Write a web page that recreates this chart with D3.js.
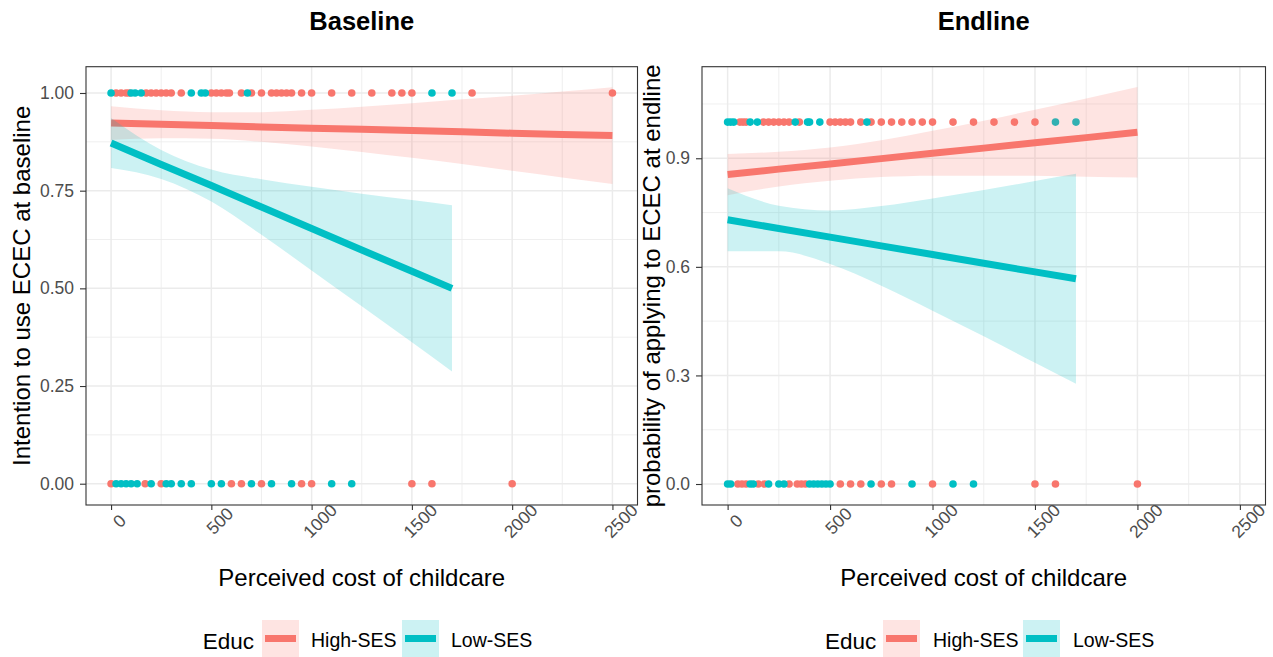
<!DOCTYPE html>
<html>
<head>
<meta charset="utf-8">
<script src="https://cdn.jsdelivr.net/npm/d3@7"></script>
<style>
  html, body { margin: 0; padding: 0; background: #ffffff; }
  svg { display: block; font-family: "Liberation Sans", Arial, sans-serif; }
</style>
</head>
<body>
<svg id="chart" width="1273" height="657"></svg>
<script>
// ---------------- DATA ----------------
const groups = ["High-SES", "Low-SES"];
const colors = ["#F8766D", "#00BFC4"];
const xTicks = [0, 500, 1000, 1500, 2000, 2500];
const xMinor = [250, 750, 1250, 1750, 2250];
const yTicksBase = [0, 0.25, 0.5, 0.75, 1.0];
const yTickLabelsBase = ["0.00", "0.25", "0.50", "0.75", "1.00"];
const yMinorBase = [0.125, 0.375, 0.625, 0.875];
const yTicksEnd = [0, 0.3, 0.6, 0.9];
const yTickLabelsEnd = ["0.0", "0.3", "0.6", "0.9"];
const yMinorEnd = [0.15, 0.45, 0.75, 1.05];

// Baseline observed points (cost) at outcome = 1 and 0
const baseHighOne = [25, 50, 75, 90, 175, 200, 225, 250, 275, 300, 350, 500, 525, 550, 575, 590, 650, 700, 750, 800, 825, 850, 875, 900, 950, 1000, 1100, 1200, 1300, 1400, 1450, 1500, 1800, 2500];
const baseLowOne = [0, 100, 120, 150, 400, 450, 470, 680, 1600, 1700];
const baseHighZero = [0, 170, 250, 600, 650, 750, 950, 1000, 1500, 1600, 2000];
const baseLowZero = [25, 50, 75, 100, 130, 200, 275, 300, 350, 400, 500, 550, 700, 800, 900, 1100, 1200];

// Endline observed points
const endHighOne = [60, 75, 90, 175, 200, 225, 250, 275, 300, 350, 500, 525, 550, 575, 600, 650, 700, 750, 800, 850, 900, 950, 1000, 1100, 1200, 1300, 1400, 1500];
const endLowOne = [0, 15, 30, 110, 145, 330, 390, 400, 450, 680, 1600, 1700];
const endHighZero = [50, 70, 90, 150, 180, 300, 340, 360, 380, 550, 600, 650, 750, 800, 1000, 1500, 1600, 2000];
const endLowZero = [0, 15, 110, 125, 200, 250, 275, 400, 420, 440, 460, 480, 500, 700, 900, 1100, 1200];

// Fitted lines and confidence bands
const baseHighX   = [0, 250, 500, 750, 1000, 1250, 1500, 1750, 2000, 2250, 2500];
const baseHighFit = [0.923, 0.920, 0.917, 0.913, 0.910, 0.907, 0.904, 0.901, 0.897, 0.894, 0.891];
const baseHighLo  = [0.880, 0.884, 0.883, 0.875, 0.863, 0.849, 0.834, 0.818, 0.801, 0.784, 0.767];
const baseHighHi  = [0.966, 0.956, 0.951, 0.951, 0.957, 0.965, 0.974, 0.984, 0.993, 1.004, 1.015];

const baseLowX   = [0, 250, 500, 750, 1000, 1250, 1500, 1700];
const baseLowFit = [0.872, 0.817, 0.763, 0.708, 0.653, 0.598, 0.544, 0.500];
const baseLowLo  = [0.808, 0.780, 0.722, 0.637, 0.546, 0.454, 0.362, 0.287];
const baseLowHi  = [0.936, 0.854, 0.804, 0.779, 0.760, 0.742, 0.726, 0.713];

const endHighX   = [0, 250, 500, 750, 1000, 1250, 1500, 1750, 2000];
const endHighFit = [0.855, 0.870, 0.884, 0.899, 0.914, 0.928, 0.943, 0.957, 0.972];
const endHighLo  = [0.798, 0.822, 0.838, 0.848, 0.852, 0.852, 0.852, 0.849, 0.847];
const endHighHi  = [0.912, 0.918, 0.930, 0.950, 0.976, 1.004, 1.034, 1.065, 1.097];

const endLowX   = [0, 250, 500, 750, 1000, 1250, 1500, 1700];
const endLowFit = [0.730, 0.706, 0.682, 0.658, 0.634, 0.610, 0.586, 0.567];
const endLowLo  = [0.643, 0.643, 0.608, 0.548, 0.479, 0.408, 0.335, 0.277];
const endLowHi  = [0.817, 0.769, 0.756, 0.768, 0.789, 0.812, 0.837, 0.857];

// ---------------- BUILD ----------------
const zip = (xs, f, lo, hi) => xs.map((x, i) => ({x, f: f[i], lo: lo[i], hi: hi[i]}));

const panels = [
  {
    title: "Baseline",
    ytitle: "Intention to use ECEC at baseline",
    left: 86, right: 637.5, top: 66.7, bottom: 505,
    ydom: [-0.0545, 1.0673],
    yTicks: yTicksBase, yLabels: yTickLabelsBase, yMinor: yMinorBase,
    ytitleX: 30,
    points: [
      {vals: baseHighOne, y: 1, g: 0}, {vals: baseHighZero, y: 0, g: 0},
      {vals: baseLowOne, y: 1, g: 1}, {vals: baseLowZero, y: 0, g: 1}
    ],
    fits: [zip(baseHighX, baseHighFit, baseHighLo, baseHighHi), zip(baseLowX, baseLowFit, baseLowLo, baseLowHi)],
    legend: {educ: 202.7, key1: 262, txt1: 311, key2: 402, txt2: 451}
  },
  {
    title: "Endline",
    ytitle: "probability of applying to ECEC at endline",
    left: 702, right: 1265.5, top: 66.7, bottom: 505,
    ydom: [-0.058, 1.153],
    yTicks: yTicksEnd, yLabels: yTickLabelsEnd, yMinor: yMinorEnd,
    ytitleX: 660,
    points: [
      {vals: endHighOne, y: 1, g: 0}, {vals: endHighZero, y: 0, g: 0},
      {vals: endLowOne, y: 1, g: 1}, {vals: endLowZero, y: 0, g: 1}
    ],
    fits: [zip(endHighX, endHighFit, endHighLo, endHighHi), zip(endLowX, endLowFit, endLowLo, endLowHi)],
    legend: {educ: 825, key1: 883, txt1: 933, key2: 1023, txt2: 1073}
  }
];

const svg = d3.select("#chart");
svg.append("rect").attr("width", 1273).attr("height", 657).attr("fill", "#ffffff");

panels.forEach(p => {
  const x = d3.scaleLinear().domain([-125, 2625]).range([p.left, p.right]);
  const y = d3.scaleLinear().domain(p.ydom).range([p.bottom, p.top]);
  const g = svg.append("g");

  // panel background
  g.append("rect").attr("x", p.left).attr("y", p.top)
    .attr("width", p.right - p.left).attr("height", p.bottom - p.top).attr("fill", "#ffffff");

  // minor gridlines
  g.selectAll(".xminor").data(xMinor).enter().append("line")
    .attr("x1", d => x(d)).attr("x2", d => x(d)).attr("y1", p.top).attr("y2", p.bottom)
    .attr("stroke", "#ebebeb").attr("stroke-width", 0.8);
  g.selectAll(".yminor").data(p.yMinor).enter().append("line")
    .attr("y1", d => y(d)).attr("y2", d => y(d)).attr("x1", p.left).attr("x2", p.right)
    .attr("stroke", "#ebebeb").attr("stroke-width", 0.8);
  // major gridlines
  g.selectAll(".xmajor").data(xTicks).enter().append("line")
    .attr("x1", d => x(d)).attr("x2", d => x(d)).attr("y1", p.top).attr("y2", p.bottom)
    .attr("stroke", "#ebebeb").attr("stroke-width", 1.5);
  g.selectAll(".ymajor").data(p.yTicks).enter().append("line")
    .attr("y1", d => y(d)).attr("y2", d => y(d)).attr("x1", p.left).attr("x2", p.right)
    .attr("stroke", "#ebebeb").attr("stroke-width", 1.5);

  // points
  p.points.forEach(s => {
    g.selectAll(null).data(s.vals).enter().append("circle")
      .attr("cx", d => x(d)).attr("cy", y(s.y)).attr("r", 3.8)
      .attr("fill", colors[s.g]);
  });

  // smooth: ribbon then line per group
  p.fits.forEach((data, gi) => {
    const area = d3.area().x(d => x(d.x)).y0(d => y(d.lo)).y1(d => y(d.hi)).curve(d3.curveMonotoneX);
    g.append("path").datum(data).attr("d", area)
      .attr("fill", colors[gi]).attr("fill-opacity", 0.2);
    const line = d3.line().x(d => x(d.x)).y(d => y(d.f));
    g.append("path").datum(data).attr("d", line)
      .attr("fill", "none").attr("stroke", colors[gi]).attr("stroke-width", 7);
  });

  // border
  g.append("rect").attr("x", p.left).attr("y", p.top)
    .attr("width", p.right - p.left).attr("height", p.bottom - p.top)
    .attr("fill", "none").attr("stroke", "#333333").attr("stroke-width", 1.1);

  // x axis
  const xa = g.append("g").attr("transform", `translate(0,${p.bottom})`)
    .call(d3.axisBottom(x).tickValues(xTicks).tickSize(5).tickFormat(d3.format("d")));
  xa.select(".domain").remove();
  xa.selectAll(".tick line").attr("stroke", "#333333").attr("stroke-width", 1.1);
  xa.selectAll(".tick text")
    .attr("y", 0).attr("dy", null)
    .attr("transform", function() { return "translate(8,16) rotate(-45)"; })
    .attr("text-anchor", "middle").attr("dominant-baseline", "central")
    .attr("fill", "#4d4d4d").style("font-size", "17.5px")
    .style("font-family", '"Liberation Sans", Arial, sans-serif');

  // y axis
  const ya = g.append("g").attr("transform", `translate(${p.left},0)`)
    .call(d3.axisLeft(y).tickValues(p.yTicks).tickSize(6).tickPadding(6)
      .tickFormat((d, i) => p.yLabels[i]));
  ya.select(".domain").remove();
  ya.selectAll(".tick line").attr("stroke", "#333333").attr("stroke-width", 1.1);
  ya.selectAll(".tick text").attr("fill", "#4d4d4d").style("font-size", "17.5px")
    .style("font-family", '"Liberation Sans", Arial, sans-serif');

  const cx = (p.left + p.right) / 2;
  const cy = (p.top + p.bottom) / 2;

  // title
  g.append("text").attr("x", cx).attr("y", 30).attr("text-anchor", "middle")
    .style("font-size", "25.5px").style("font-weight", "bold").attr("fill", "#000")
    .text(p.title);

  // axis titles
  g.append("text").attr("x", cx).attr("y", 586).attr("text-anchor", "middle")
    .style("font-size", "24px").attr("fill", "#000").text("Perceived cost of childcare");
  g.append("text").attr("transform", `translate(${p.ytitleX},${cy}) rotate(-90)`)
    .attr("text-anchor", "middle").style("font-size", "24px").attr("fill", "#000").text(p.ytitle);

  // legend
  const L = p.legend;
  g.append("text").attr("x", L.educ).attr("y", 649).style("font-size", "22.5px").attr("fill", "#000").text("Educ");
  [[L.key1, L.txt1], [L.key2, L.txt2]].forEach((k, i) => {
    g.append("rect").attr("x", k[0]).attr("y", 620).attr("width", 37).attr("height", 37)
      .attr("fill", colors[i]).attr("fill-opacity", 0.2);
    g.append("line").attr("x1", k[0] + 3).attr("x2", k[0] + 34).attr("y1", 638.5).attr("y2", 638.5)
      .attr("stroke", colors[i]).attr("stroke-width", 7);
    g.append("text").attr("x", k[1]).attr("y", 646.5).style("font-size", "19.5px").attr("fill", "#000")
      .text(groups[i]);
  });
});
</script>
</body>
</html>
